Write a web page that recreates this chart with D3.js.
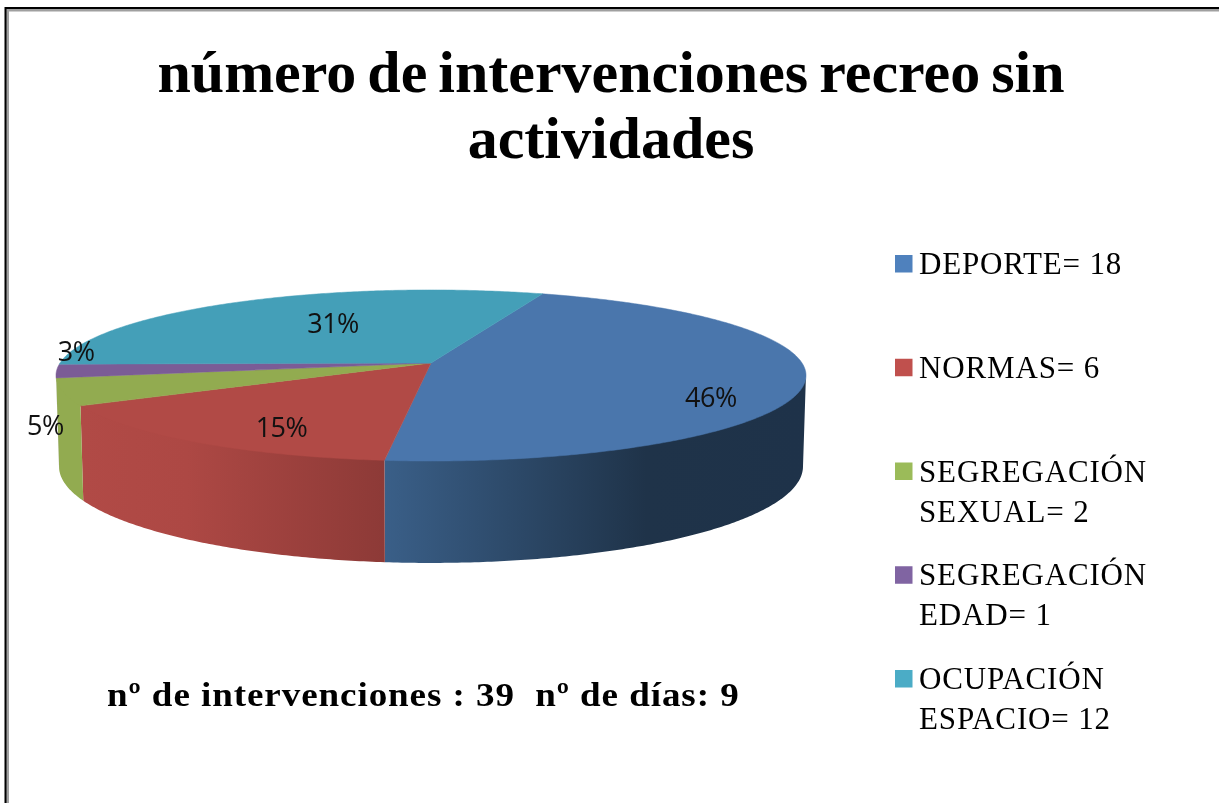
<!DOCTYPE html>
<html>
<head>
<meta charset="utf-8">
<script src="https://cdn.jsdelivr.net/npm/d3@7"></script>
<style>
  html, body { margin: 0; padding: 0; background: #fff; }
  svg { display: block; filter: blur(0.5px); }
</style>
</head>
<body>
<div id="chart"></div>
<script>
var titleLines = ["número de intervenciones recreo sin", "actividades"];
var footer = "nº de intervenciones : 39  nº de días: 9";
var categories = ["DEPORTE", "NORMAS", "SEGREGACIÓN SEXUAL", "SEGREGACIÓN EDAD", "OCUPACIÓN ESPACIO"];
var values = [18, 6, 2, 1, 12];
var percentLabels = ["46%", "15%", "5%", "3%", "31%"];
var topColors = ["#4a76ac", "#b14a46", "#92ab50", "#7b5c96", "#449fb8"];
var legendColors = ["#4f81bd", "#c0504d", "#9bbb59", "#8064a2", "#4bacc6"];

var full_width = 1219, full_height = 803;

// Label nudges from the slice mid point, Excel placed these by hand
var labelNudge = [[2, 20], [21, 7], [-113, 41], [-75, -17], [50, 8]];

var svg = d3.select("#chart").append("svg")
    .attr("width", full_width)
    .attr("height", full_height);

// Frame, black outside and grey inside, runs off the right and bottom edges
svg.append("path")
    .attr("d", "M7.5,803V10H1219")
    .attr("fill", "none").attr("stroke", "#a0a0a0").attr("stroke-width", 3);
svg.append("path")
    .attr("d", "M5.5,803V8H1219")
    .attr("fill", "none").attr("stroke", "#000").attr("stroke-width", 2);

// Perspective projection of the disc: k is how strongly the front is enlarged
var k = 0.146, cx = 431;
function project(theta, f, a, y0, b) {
    var u = f * Math.sin(theta), v = -f * Math.cos(theta);
    var w = 1 - k * v;
    return [cx + a * u / w, y0 + b * v / w];
}
function topPoint(theta, f) { return project(theta, f, 371, 363, 83.7); }
function bottomPoint(theta) { return project(theta, 1, 368, 452.4, 94.4); }

var arcs = d3.pie().sort(null).startAngle(20 * Math.PI / 180).endAngle(380 * Math.PI / 180)(values);

function samples(a0, a1) {
    var n = Math.max(2, Math.ceil((a1 - a0) / 0.01));
    return d3.range(n + 1).map(function(i) { return a0 + (a1 - a0) * i / n; });
}
var line = d3.line();

// Wall gradients
var defs = svg.append("defs");
var wallStops = [
    [[0, "#3a5f88"], [0.62, "#1f3349"], [1, "#1e3249"]],
    [[0, "#b14a46"], [0.35, "#ad4844"], [1, "#8d3a37"]],
    [[0, "#92ab50"], [1, "#92ab50"]],
    [[0, "#7b5c96"], [1, "#7b5c96"]],
    [[0, "#449fb8"], [1, "#449fb8"]]
];
wallStops.forEach(function(stops, i) {
    var g = defs.append("linearGradient").attr("id", "wall" + i);
    stops.forEach(function(s) {
        g.append("stop").attr("offset", s[0]).attr("stop-color", s[1]);
    });
});

// Only the front part of the rim is visible. The wall's upper edge is lifted a
// little so the top face covers it without a seam
var visFrom = Math.acos(-k), visTo = 2 * Math.PI - Math.acos(-k);
arcs.forEach(function(d, i) {
    var a0 = Math.max(d.startAngle, visFrom), a1 = Math.min(d.endAngle, visTo);
    if (a1 <= a0) return;
    var ts = samples(a0, a1);
    var pts = ts.map(function(t) { var p = topPoint(t, 1); return [p[0], p[1] - 1.5]; })
        .concat(ts.slice().reverse().map(bottomPoint));
    svg.append("path")
        .attr("d", line(pts) + "Z")
        .attr("fill", "url(#wall" + i + ")");
});

// Top face
arcs.forEach(function(d, i) {
    var pts = [topPoint(0, 0)].concat(samples(d.startAngle, d.endAngle).map(function(t) {
        return topPoint(t, 1);
    }));
    svg.append("path")
        .attr("d", line(pts) + "Z")
        .attr("fill", topColors[i])
        .attr("stroke", topColors[i])
        .attr("stroke-width", 0.5);
});

// Percent labels
arcs.forEach(function(d, i) {
    var p = topPoint((d.startAngle + d.endAngle) / 2, 0.75);
    svg.append("text")
        .attr("x", p[0] + labelNudge[i][0])
        .attr("y", p[1] + labelNudge[i][1])
        .attr("dy", "0.35em")
        .attr("text-anchor", "middle")
        .style("font-family", "'Open Sans', sans-serif")
        .style("font-size", "27px")
        .style("letter-spacing", "-0.5px")
        .style("fill", "#111")
        .text(percentLabels[i]);
});

// Title
svg.selectAll(".title").data(titleLines).enter().append("text")
    .attr("class", "title")
    .attr("x", 611)
    .attr("y", function(d, i) { return 92 + i * 66; })
    .attr("text-anchor", "middle")
    .style("font-family", "'Liberation Serif', serif")
    .style("font-weight", "bold")
    .style("font-size", "60px")
    .style("word-spacing", "-4px")
    .style("fill", "#000")
    .text(function(d) { return d; });

// Footer note, the glyphs are stretched wider in the original
svg.append("text")
    .attr("transform", "translate(107,706) scale(1.09,1)")
    .attr("xml:space", "preserve")
    .style("white-space", "pre")
    .style("font-family", "'Liberation Serif', serif")
    .style("font-weight", "bold")
    .style("font-size", "34px")
    .style("letter-spacing", "0.85px")
    .style("fill", "#000")
    .text(footer);

// Legend
var legendY = d3.scaleLinear().domain([0, 4]).range([255, 670]);
categories.forEach(function(name, i) {
    var top = legendY(i);
    svg.append("rect")
        .attr("x", 895).attr("y", top)
        .attr("width", 17.5).attr("height", 17.5)
        .attr("fill", legendColors[i]);
    var words = name.split(" ");
    words[words.length - 1] += "= " + values[i];
    words.forEach(function(w, j) {
        svg.append("text")
            .attr("x", 919)
            .attr("y", top + 19 + j * 40)
            .style("font-family", "'Liberation Serif', serif")
            .style("font-size", "31px")
            .style("letter-spacing", "0.85px")
            .style("fill", "#000")
            .text(w);
    });
});
</script>
</body>
</html>
